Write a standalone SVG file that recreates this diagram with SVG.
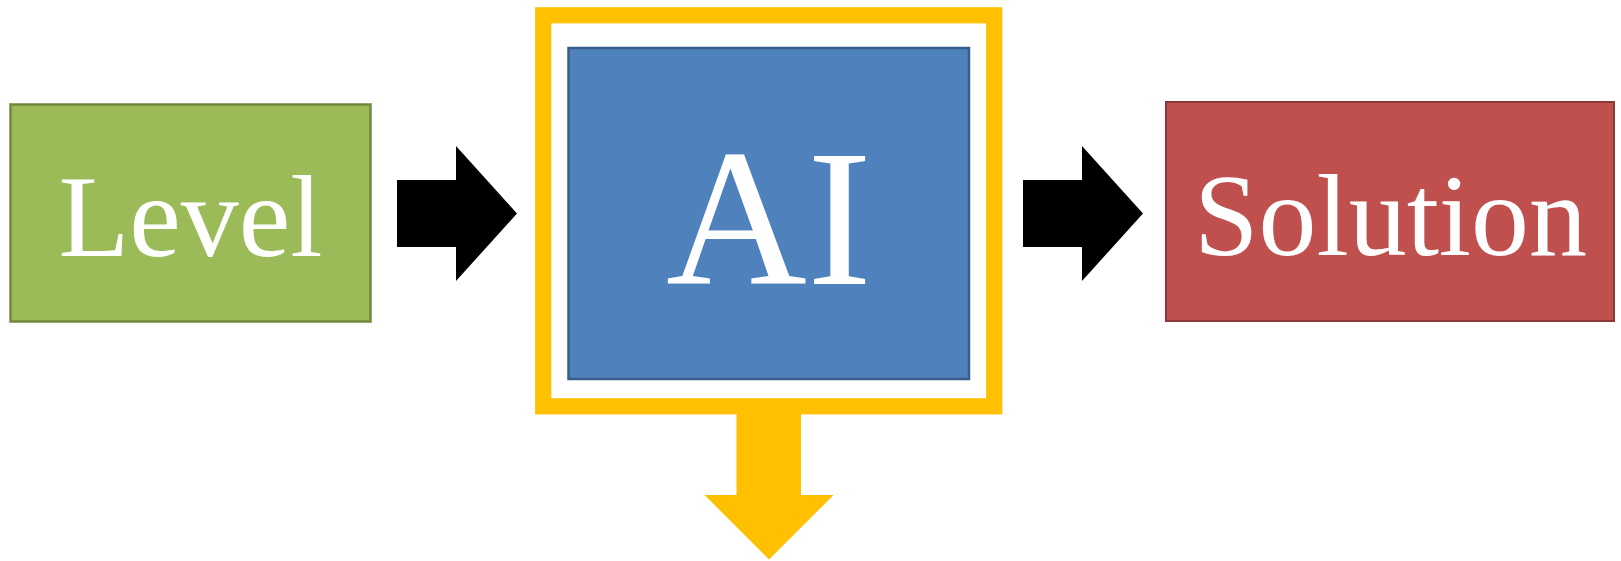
<svg xmlns="http://www.w3.org/2000/svg" width="1621" height="561" viewBox="0 0 1621 561">
<style>
.lbl{fill:#fff;text-anchor:middle}
.arr{fill:#000}
</style>
<rect width="1621" height="561" fill="#fff"/>
<g id="connectors">
<polygon class="arr" points="397,180 456,180 456,146 517,213.5 456,281 456,247 397,247"/>
<polygon class="arr" points="1023,180 1082,180 1082,146 1143,213.5 1082,281 1082,247 1023,247"/>
<polygon fill="#FFC000" points="736.5,410 801,410 801,495 833.5,495 769,559.5 704.5,495 736.5,495"/>
</g>
<g id="node-level">
<rect x="10.5" y="104.5" width="360" height="217" fill="#9BBB59" stroke="#71893F" stroke-width="2.5"/>
<text class="lbl" x="190.5" y="256" font-size="116" font-family="Liberation Serif, Tinos, Times New Roman, serif">Level</text>
</g>
<g id="node-ai">
<rect x="543.2" y="15.3" width="451" height="391" fill="#fff" stroke="#FFC000" stroke-width="16.2"/>
<rect x="568.5" y="48" width="400.5" height="331" fill="#4F81BD" stroke="#385D8A" stroke-width="2.5"/>
<text class="lbl" x="769" y="283.5" font-size="195" font-family="Liberation Serif, Tinos, Times New Roman, serif">AI</text>
</g>
<g id="node-solution">
<rect x="1166" y="102" width="448" height="219" fill="#C0504D" stroke="#8C3836" stroke-width="2"/>
<text class="lbl" x="1390.5" y="255" font-size="116" font-family="Liberation Serif, Tinos, Times New Roman, serif">Solution</text>
</g>
</svg>
